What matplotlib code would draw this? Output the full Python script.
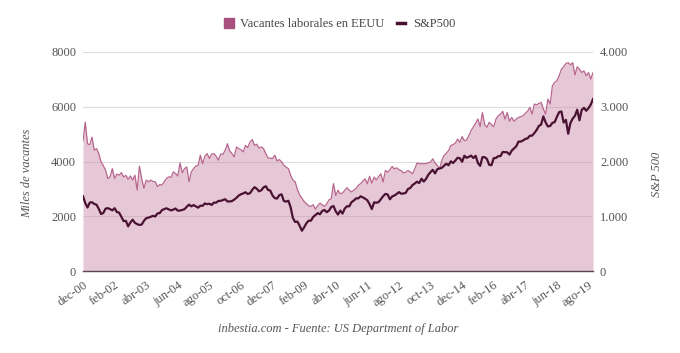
import matplotlib
matplotlib.use('Agg')
import matplotlib.pyplot as plt
from matplotlib.lines import Line2D
import numpy as np

# Job openings in the US (thousands), monthly Dec-2000 .. Oct-2019
vacantes = [
    4750, 5440, 4650, 4610, 4890, 4410, 4470, 4290, 3990, 3850,
    3680, 3380, 3440, 3740, 3380, 3540, 3500, 3590, 3440, 3490,
    3350, 3470, 3320, 3500, 2960, 3830, 3380, 3020, 3320, 3260,
    3320, 3270, 3260, 3080, 3160, 3140, 3260, 3380, 3440, 3420,
    3620, 3560, 3470, 3950, 3590, 3740, 3800, 3260, 3620, 3740,
    3830, 3860, 4230, 3920, 4190, 4290, 4110, 4270, 4290, 4190,
    4050, 4270, 4260, 4410, 4650, 4390, 4290, 4170, 4530, 4470,
    4430, 4350, 4590, 4510, 4710, 4800, 4590, 4630, 4490, 4530,
    4470, 4290, 4130, 4120, 4110, 4230, 4020, 4070, 3990, 3860,
    3800, 3740, 3500, 3320, 3260, 2980, 2780, 2660, 2540, 2460,
    2380, 2360, 2420, 2260, 2380, 2480, 2420, 2360, 2450, 2600,
    2640, 3190, 2760, 2950, 2820, 2850, 2950, 3040, 2950, 2890,
    2950, 3010, 3130, 3190, 3280, 3370, 3190, 3460, 3210, 3430,
    3330, 3450, 3550, 3250, 3670, 3610, 3700, 3820, 3730, 3770,
    3700, 3670, 3580, 3610, 3670, 3620, 3550, 3730, 3940, 3920,
    3920, 3920, 3920, 3950, 3980, 4100, 3940, 3860, 3730, 4040,
    4220, 4300, 4400, 4580, 4620, 4670, 4820, 4700, 4910, 4760,
    4790, 4950, 5130, 5270, 5400, 5550, 5270, 5790, 5350, 5250,
    5430, 5350, 5270, 5550, 5670, 5730, 5830, 5550, 5790, 5470,
    5610, 5470, 5550, 5610, 5640, 5670, 5760, 5830, 5980, 5730,
    6100, 6070, 6120, 6160, 5920, 5730, 6280, 6100, 6760, 6890,
    6950, 7130, 7370, 7460, 7580, 7610, 7530, 7610, 7160, 7460,
    7370, 7250, 7310, 7130, 7250, 7010, 7250,
]

# S&P 500 monthly close, as drawn on the same category axis
sp500 = [
    1366, 1240, 1160, 1249, 1256, 1224, 1211, 1134, 1041, 1060, 1139, 1148,
    1130, 1107, 1147, 1077, 1067, 990, 912, 916, 815, 886, 936, 880,
    856, 841, 848, 917, 964, 975, 990, 1008, 996, 1051, 1058, 1112,
    1131, 1145, 1126, 1107, 1121, 1141, 1102, 1104, 1115, 1130, 1174, 1212,
    1181, 1204, 1181, 1157, 1192, 1191, 1234, 1220, 1229, 1207, 1249, 1248,
    1280, 1281, 1295, 1311, 1270, 1270, 1277, 1304, 1336, 1378, 1401, 1418,
    1438, 1407, 1421, 1482, 1531, 1503, 1455, 1474, 1527, 1549, 1481, 1468,
    1379, 1331, 1323, 1386, 1400, 1280, 1267, 1283, 1166, 969, 896, 903,
    826, 735, 798, 873, 919, 919, 987, 1021, 1057, 1036, 1096, 1115,
    1074, 1104, 1169, 1187, 1089, 1031, 1102, 1049, 1141, 1183, 1181, 1258,
    1286, 1327, 1326, 1364, 1345, 1321, 1292, 1219, 1131, 1253, 1247, 1258,
    1312, 1366, 1408, 1398, 1310, 1362, 1379, 1407, 1441, 1412, 1416, 1426,
    1498, 1515, 1569, 1598, 1631, 1606, 1686, 1633, 1682, 1757, 1806, 1848,
    1783, 1859, 1872, 1884, 1924, 1960, 1931, 2003, 1972, 2018, 2068, 2059,
    1995, 2105, 2068, 2086, 2107, 2063, 2104, 1972, 1920, 2079, 2080, 2044,
    1940, 1932, 2060, 2065, 2097, 2099, 2174, 2171, 2168, 2126, 2199, 2239,
    2279, 2364, 2363, 2384, 2412, 2423, 2470, 2472, 2519, 2575, 2648, 2674,
    2824, 2714, 2641, 2648, 2705, 2718, 2816, 2902, 2914, 2712, 2760, 2507,
    2704, 2784, 2834, 2946, 2752, 2942, 2980, 2926, 2977, 3038, 3141,
]

tick_labels = ['dec-00', 'feb-02', 'abr-03', 'jun-04', 'ago-05', 'oct-06',
               'dec-07', 'feb-09', 'abr-10', 'jun-11', 'ago-12', 'oct-13',
               'dec-14', 'feb-16', 'abr-17', 'jun-18', 'ago-19']
tick_step = 14
left_ticks = [0, 2000, 4000, 6000, 8000]
right_ticks = [0, 1000, 2000, 3000, 4000]
right_tick_labels = ['0', '1.000', '2.000', '3.000', '4.000']

plt.rcParams['font.family'] = ['Liberation Serif', 'DejaVu Serif']

TXT = '#555555'
FILL = '#cd91af'
LINE_V = '#b8668f'
LINE_SP = '#4a1232'

fig = plt.figure(figsize=(6.8, 3.53), dpi=100)
ax = fig.add_axes([83 / 680, 1 - 271 / 353, 510 / 680, 219 / 353])

x = np.arange(len(vacantes))
ax.fill_between(x, vacantes, 0, color=FILL, alpha=0.5, lw=0, zorder=2)
ax.plot(x, vacantes, color=LINE_V, lw=0.9, zorder=3)
ax.set_xlim(0, len(x) - 1)
ax.set_ylim(0, 8000)
ax.set_yticks(left_ticks)
ax.set_yticklabels([str(t) for t in left_ticks])
ax.grid(axis='y', color='#dddddd', lw=0.8, zorder=1)
ax.set_axisbelow(True)
ax.set_xticks(x[::tick_step])
ax.set_xticklabels(tick_labels, rotation=35, ha='right', rotation_mode='anchor')
ax.tick_params(axis='both', length=0, colors=TXT, labelsize=9)
ax.tick_params(axis='x', pad=6)
ax.tick_params(axis='y', pad=5)
for s in ['top', 'left', 'right']:
    ax.spines[s].set_visible(False)
ax.spines['bottom'].set_color('#5a4650')
ax.spines['bottom'].set_linewidth(1.0)
ax.set_ylabel('Miles de vacantes', style='italic', color=TXT, fontsize=9)
ax.yaxis.set_label_coords(-0.098, 0.445)

ax2 = ax.twinx()
ax2.plot(np.arange(len(sp500)), sp500, color=LINE_SP, lw=1.6, zorder=4)
ax2.set_ylim(0, 4000)
ax2.set_yticks(right_ticks)
ax2.set_yticklabels(right_tick_labels)
ax2.tick_params(axis='y', length=0, colors=TXT, labelsize=9, pad=5)
for s in ['top', 'left', 'right', 'bottom']:
    ax2.spines[s].set_visible(False)
ax2.set_ylabel('S&P 500', style='italic', color=TXT, fontsize=9)
ax2.yaxis.set_label_coords(1.113, 0.44)

handles = [
    Line2D([], [], marker='s', linestyle='none', markersize=6.5,
           markerfacecolor='#a8507e', markeredgecolor='#a8507e'),
    Line2D([], [], color=LINE_SP, lw=2.5),
]
fig.legend(handles, ['Vacantes laborales en EEUU', 'S&P500'], loc='center',
           bbox_to_anchor=(340 / 680, 1 - 24 / 353), ncol=2, frameon=False,
           fontsize=9, handlelength=0.6, handletextpad=0.65,
           columnspacing=1.0, labelcolor='#444444', borderpad=0.2)

fig.text(338 / 680, 1 - 329 / 353,
         'inbestia.com - Fuente: US Department of Labor',
         ha='center', va='center', style='italic', color=TXT, fontsize=9)

fig.savefig('out.png', dpi=100)
